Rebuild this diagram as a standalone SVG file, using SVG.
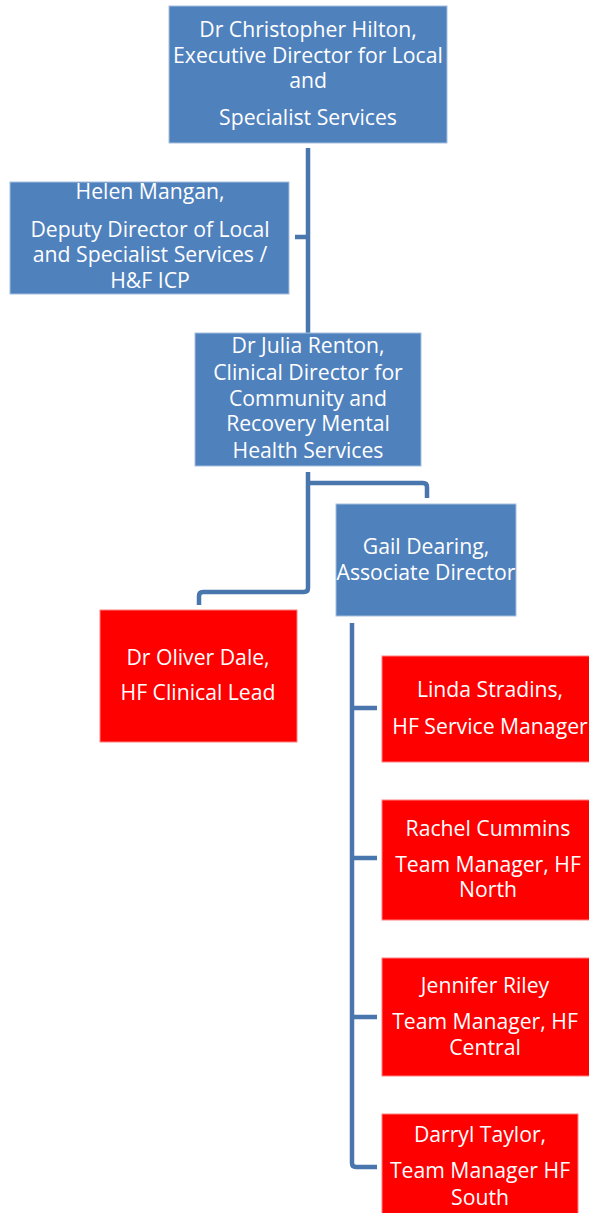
<svg xmlns="http://www.w3.org/2000/svg" width="589" height="1213" viewBox="0 0 589 1213">
<style>
.b{fill:#4F81BD;stroke:#A7C0DE;stroke-width:1}
.r{fill:#FF0000;stroke:#FF8080;stroke-width:1}
text{font-family:"Open Sans","Noto Sans",sans-serif;font-size:21.2px;fill:#FFFFFF;text-anchor:middle}
.c{fill:none;stroke:#4A76AE;stroke-width:4.5;stroke-linejoin:round}
</style>
<g id="connectors">
<path class="c" d="M308,148 V333 M308,237 H295"/>
<path class="c" d="M308,472 V588 Q308,592 304,592 H203 Q199,592 199,596 V605"/>
<path class="c" d="M308,483 H423 Q427,483 427,487 V498"/>
<path class="c" d="M352,623 V1163 Q352,1167 356,1167 H377 M352,708 H377 M352,858 H377 M352,1017 H377"/>
</g>
<g id="hilton">
<rect class="b" x="169" y="6" width="278" height="137"/>
<text x="308" y="37">Dr Christopher Hilton,</text>
<text x="308" y="63">Executive Director for Local</text>
<text x="308" y="88">and</text>
<text x="308" y="125">Specialist Services</text>
</g>
<g id="mangan">
<rect class="b" x="10" y="182" width="279" height="112"/>
<text x="150" y="199">Helen Mangan,</text>
<text x="150" y="237">Deputy Director of Local</text>
<text x="150" y="262">and Specialist Services /</text>
<text x="150" y="288">H&amp;F ICP</text>
</g>
<g id="renton">
<rect class="b" x="195" y="333" width="226" height="133"/>
<text x="308" y="353">Dr Julia Renton,</text>
<text x="308" y="380">Clinical Director for</text>
<text x="308" y="406">Community and</text>
<text x="308" y="431">Recovery Mental</text>
<text x="308" y="458">Health Services</text>
</g>
<g id="dearing">
<rect class="b" x="336" y="504" width="180" height="112"/>
<text x="426" y="554">Gail Dearing,</text>
<text x="426" y="580">Associate Director</text>
</g>
<g id="dale">
<rect class="r" x="100" y="610" width="197" height="132"/>
<text x="198" y="665">Dr Oliver Dale,</text>
<text x="198" y="700">HF Clinical Lead</text>
</g>
<g id="stradins">
<rect class="r" x="382" y="656" width="216" height="106"/>
<text x="490" y="697">Linda Stradins,</text>
<text x="490" y="734">HF Service Manager</text>
</g>
<g id="cummins">
<rect class="r" x="382" y="800" width="216" height="120"/>
<text x="488" y="836">Rachel Cummins</text>
<text x="488" y="872">Team Manager, HF</text>
<text x="488" y="897">North</text>
</g>
<g id="riley">
<rect class="r" x="382" y="958" width="216" height="118"/>
<text x="485" y="993">Jennifer Riley</text>
<text x="485" y="1029">Team Manager, HF</text>
<text x="485" y="1055">Central</text>
</g>
<g id="taylor">
<rect class="r" x="382" y="1114" width="196" height="110"/>
<text x="480" y="1142">Darryl Taylor,</text>
<text x="480" y="1178">Team Manager HF</text>
<text x="480" y="1205">South</text>
</g>
</svg>
